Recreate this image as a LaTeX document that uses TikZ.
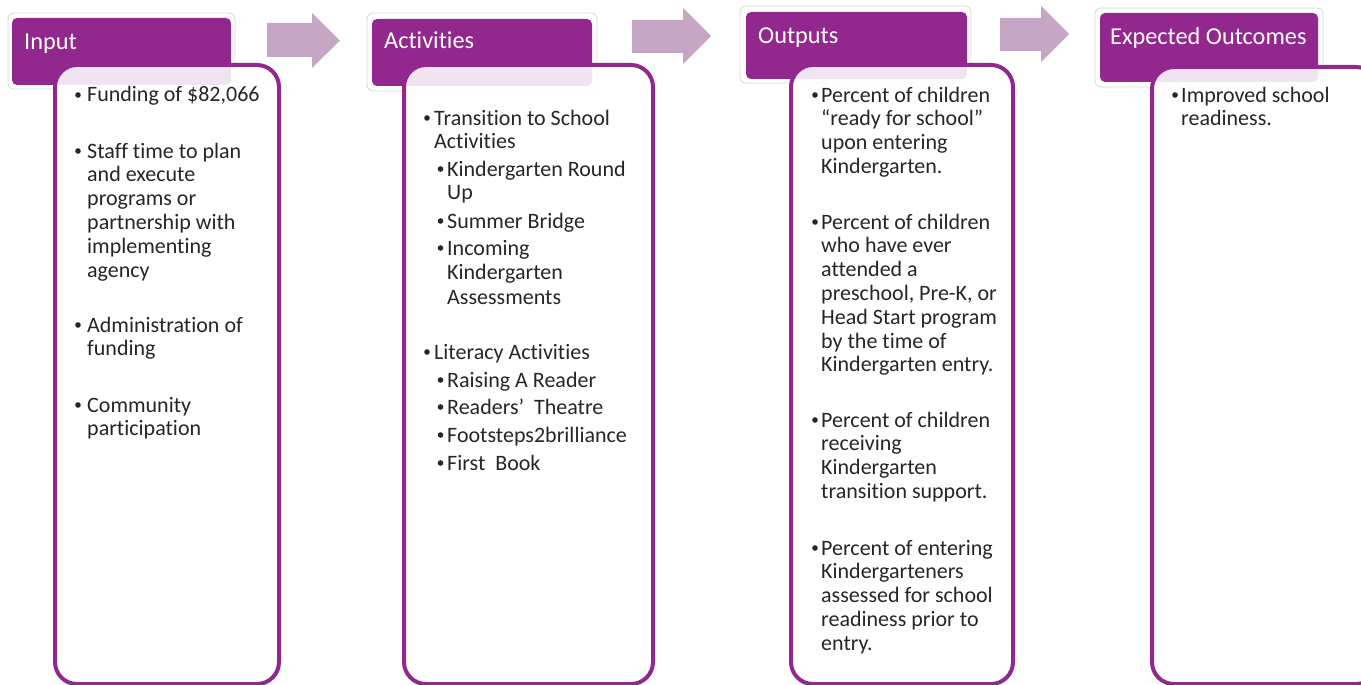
\documentclass[tikz,border=0pt]{standalone}
\usepackage{fontspec}
\setmainfont{Carlito}[Ligatures={NoCommon}]
\definecolor{purp}{RGB}{146,40,142}
\definecolor{arrowc}{RGB}{197,166,196}
\definecolor{txt}{RGB}{38,38,38}
\definecolor{frame}{RGB}{215,215,215}
\tikzset{
  hdrframe/.style={draw=frame, line width=0.8pt, fill=white, rounded corners=6pt, inner sep=0pt, outer sep=0pt, anchor=north west},
  hdr/.style={fill=purp, rounded corners=5pt, inner sep=0pt, outer sep=0pt, anchor=north west},
  hdrtext/.style={text=white, font=\fontsize{24.3}{28}\selectfont, inner sep=0pt, anchor=base west},
  content/.style={draw=purp, line width=4pt, rounded corners=22pt, fill=white, fill opacity=0.88, draw opacity=1},
  flow/.style={fill=arrowc, draw=none},
  item/.style={text=txt, font=\fontsize{22}{23.8}\selectfont, align=left, inner sep=0pt, anchor=base west},
  bul/.style={fill=txt},
}
\begin{document}
\begin{tikzpicture}[x=1pt,y=-1pt]
\useasboundingbox (0,0) rectangle (1361,685);
% header frames and headers
\node[hdrframe, minimum width=227pt, minimum height=76pt] (f1) at (8,13) {};
\node[hdr, minimum width=219pt, minimum height=67pt] (h1) at (12,18) {};
\node[hdrframe, minimum width=230pt, minimum height=78pt] (f2) at (367,13) {};
\node[hdr, minimum width=220pt, minimum height=67pt] (h2) at (372,19) {};
\node[hdrframe, minimum width=231pt, minimum height=77pt] (f3) at (740,6) {};
\node[hdr, minimum width=221pt, minimum height=67pt] (h3) at (746,12) {};
\node[hdrframe, minimum width=228pt, minimum height=79pt] (f4) at (1095,8) {};
\node[hdr, minimum width=218pt, minimum height=69pt] (h4) at (1100,13) {};
% header texts
\node[hdrtext] (t1) at (24,50) {Input};
\node[hdrtext] (t2) at (384,49) {Activities};
\node[hdrtext] (t3) at (758,44) {Outputs};
\node[hdrtext] (t4) at (1110,45) {Expected Outcomes};
% content boxes
\path[content] (55,65) rectangle (279,684);
\path[content] (404,65) rectangle (653,684);
\path[content] (791,65) rectangle (1013,684);
\path[content] (1152,67) rectangle (1378,684);
% arrows
\fill[flow] (267,23) -- (312,23) -- (312,13) -- (340,40.5) -- (312,68) -- (312,57) -- (267,57) -- cycle;
\fill[flow] (632,20) -- (683,20) -- (683,8) -- (711,36) -- (683,64) -- (683,53) -- (632,53) -- cycle;
\fill[flow] (1000,18) -- (1041,18) -- (1041,6) -- (1069,34) -- (1041,62) -- (1041,51) -- (1000,51) -- cycle;
% column 1
\foreach \y in {102,158,332,412} \fill[bul] (78,\y-7) circle (2.8pt);
\node[item] (i11) at (87,102) {Funding of \$82,066};
\node[item] (i12) at (87,277) {Staff time to plan\\and execute\\programs or\\partnership with\\implementing\\agency};
\node[item] (i13) at (87,355.8) {Administration of\\funding};
\node[item] (i14) at (87,435.8) {Community\\participation};
% column 2
\foreach \y in {125,359} \fill[bul] (427,\y-7) circle (2.8pt);
\foreach \y in {176,228,255,387,414,442,470} \fill[bul] (440.5,\y-7) circle (2.8pt);
\node[item] (i21) at (434,148.8) {Transition to School\\Activities};
\node[item] (i22) at (447,199.8) {Kindergarten Round\\Up};
\node[item] (i23) at (447,228) {Summer Bridge};
\node[item, font=\fontsize{22}{24.5}\selectfont] (i24) at (447,304) {Incoming\\Kindergarten\\Assessments};
\node[item] (i25) at (434,359) {Literacy Activities};
\node[item] (i26) at (447,387) {Raising A Reader};
\node[item] (i27) at (447,414) {Readers{\char39}\ \ Theatre};
\node[item] (i28) at (447,442) {Footsteps2brilliance};
\node[item] (i29) at (447,470) {First\ \ Book};
% column 3
\foreach \y in {102,229,427,555} \fill[bul] (815,\y-7) circle (2.8pt);
\node[item] (i31) at (821,173.4) {Percent of children\\“ready for school”\\upon entering\\Kindergarten.};
\node[item] (i32) at (821,371.8) {Percent of children\\who have ever\\attended a\\preschool, Pre-K, or\\Head Start program\\by the time of\\Kindergarten entry.};
\node[item] (i33) at (821,498.4) {Percent of children\\receiving\\Kindergarten\\transition support.};
\node[item] (i34) at (821,650.2) {Percent of entering\\Kindergarteners\\assessed for school\\readiness prior to\\entry.};
% column 4
\fill[bul] (1175,95) circle (2.8pt);
\node[item] (i41) at (1181,125.8) {Improved school\\readiness.};
\end{tikzpicture}
\end{document}
